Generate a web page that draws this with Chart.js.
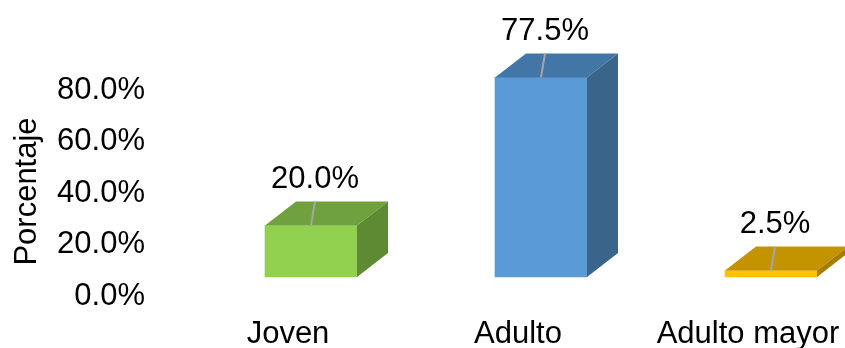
<!DOCTYPE html>
<html lang="es">
<head>
<meta charset="utf-8">
<title>Porcentaje por grupo de edad</title>
<script src="https://cdn.jsdelivr.net/npm/chart.js@4/dist/chart.umd.min.js"></script>
<style>
  html, body { margin: 0; padding: 0; background: #ffffff; }
  #wrap { width: 845px; height: 348px; }
</style>
</head>
<body>
<div id="wrap"><canvas id="chart" width="845" height="348"></canvas></div>
<script>
// Data
const categories = ['Joven', 'Adulto', 'Adulto mayor'];
const percentages = [20.0, 77.5, 2.5];
const tickValues = [0, 20, 40, 60, 80];
const axisTitle = 'Porcentaje';

// Face colours for each column: front, top, side
const frontColors = ['#92D050', '#5B9BD5', '#FFC000'];
const topColors = ['#70A13F', '#4276A6', '#C49300'];
const sideColors = ['#5E8A33', '#3A6489', '#A67C00'];

const FONT = '"Liberation Sans", Arial, Helvetica, sans-serif';
const FONT_SIZE = 31;
const DEPTH_X = 31;
const DEPTH_Y = -24;

// Draws the top and side faces of each column, plus the value labels with leader lines
const columns3d = {
  id: 'columns3d',
  afterDatasetsDraw(chart) {
    const ctx = chart.ctx;
    const meta = chart.getDatasetMeta(0);
    ctx.save();
    meta.data.forEach((bar, i) => {
      const p = bar.getProps(['x', 'y', 'base', 'width'], true);
      const left = p.x - p.width / 2;
      const right = p.x + p.width / 2;
      const top = p.y;
      const base = p.base;

      // top face
      ctx.fillStyle = topColors[i];
      ctx.beginPath();
      ctx.moveTo(left, top);
      ctx.lineTo(left + DEPTH_X, top + DEPTH_Y);
      ctx.lineTo(right + DEPTH_X, top + DEPTH_Y);
      ctx.lineTo(right, top);
      ctx.closePath();
      ctx.fill();

      // side face
      ctx.fillStyle = sideColors[i];
      ctx.beginPath();
      ctx.moveTo(right, top);
      ctx.lineTo(right + DEPTH_X, top + DEPTH_Y);
      ctx.lineTo(right + DEPTH_X, base + DEPTH_Y);
      ctx.lineTo(right, base);
      ctx.closePath();
      ctx.fill();

      // leader line and value label
      const lx = p.x + 4;
      const ly = top + DEPTH_Y;
      ctx.strokeStyle = '#A6A6A6';
      ctx.lineWidth = 2;
      ctx.beginPath();
      ctx.moveTo(p.x, top);
      ctx.lineTo(lx, ly);
      ctx.stroke();

      ctx.fillStyle = '#000000';
      ctx.font = FONT_SIZE + 'px ' + FONT;
      ctx.textAlign = 'center';
      ctx.textBaseline = 'middle';
      ctx.fillText(percentages[i].toFixed(1) + '%', lx, ly - 22);
    });
    ctx.restore();
  }
};

new Chart(document.getElementById('chart'), {
  type: 'bar',
  data: {
    labels: categories,
    datasets: [{
      data: percentages,
      backgroundColor: frontColors,
      borderWidth: 0,
      barThickness: 92,
      clip: false
    }]
  },
  options: {
    responsive: false,
    animation: false,
    events: [],
    layout: { padding: { top: 71, right: 74, bottom: 0, left: 0 } },
    plugins: {
      legend: { display: false },
      tooltip: { enabled: false }
    },
    scales: {
      x: {
        type: 'category',
        offset: false,
        grid: { display: false, drawTicks: false },
        border: { display: false },
        ticks: {
          autoSkip: false,
          maxRotation: 0,
          minRotation: 0,
          padding: 4,
          labelOffset: -23,
          color: '#000000',
          font: { family: FONT, size: FONT_SIZE }
        },
        afterFit(scale) {
          scale.height = 36;
          scale.paddingLeft = 0;
          scale.paddingRight = 0;
        }
      },
      y: {
        min: -13.6,
        max: 80,
        grid: { display: false, drawTicks: false },
        border: { display: false },
        afterBuildTicks(scale) {
          scale.ticks = tickValues.map(v => ({ value: v }));
        },
        ticks: {
          padding: 166,
          labelOffset: 19,
          color: '#000000',
          font: { family: FONT, size: FONT_SIZE },
          callback: v => Number(v).toFixed(1) + '%'
        },
        title: {
          display: true,
          text: axisTitle,
          color: '#000000',
          padding: { top: 9, bottom: 0 },
          font: { family: FONT, size: FONT_SIZE }
        },
        afterFit(scale) {
          scale.width = 311;
          scale.paddingTop = 0;
          scale.paddingBottom = 0;
        }
      }
    }
  },
  plugins: [columns3d]
});
</script>
</body>
</html>
